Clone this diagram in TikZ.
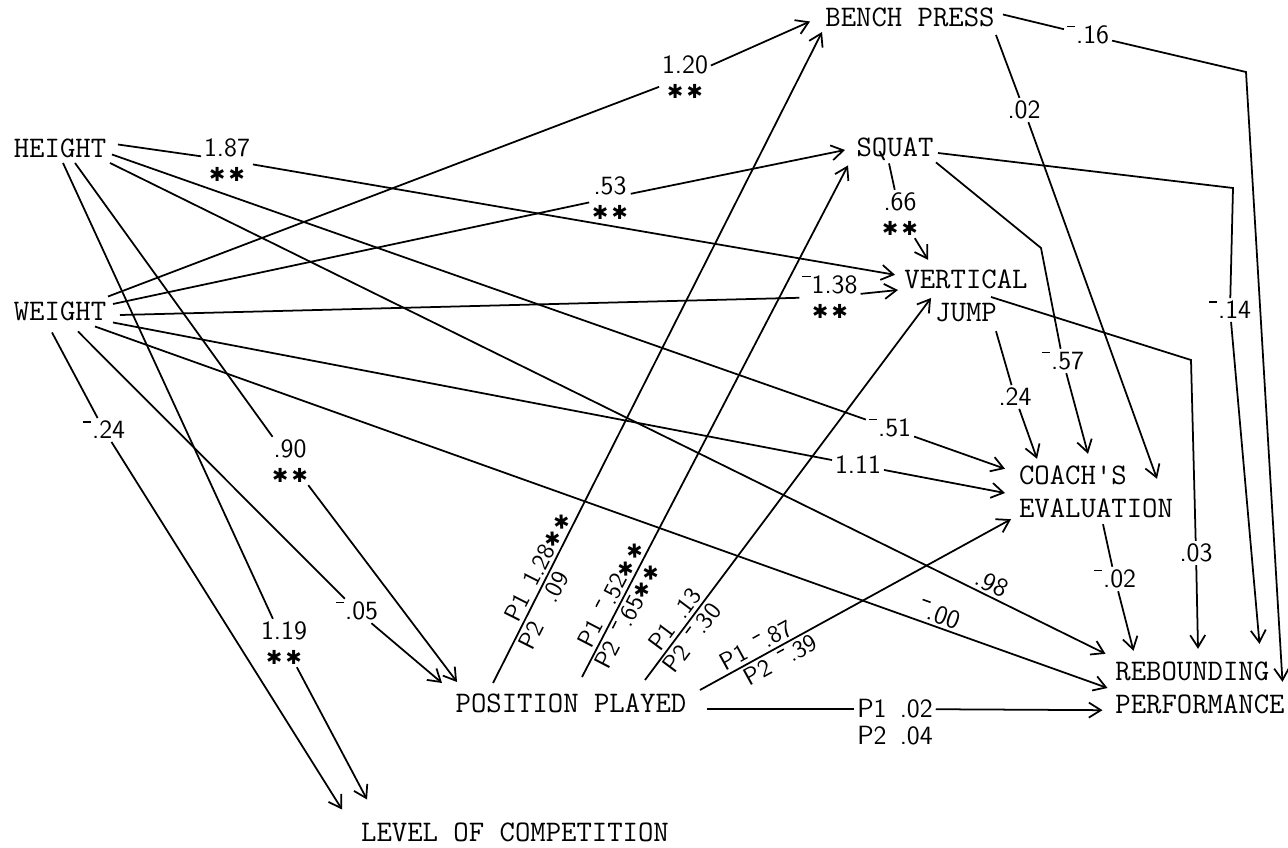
\documentclass[tikz,border=0pt]{standalone}
\usepackage{amsmath, amssymb}
\usepackage{fontspec}
\usepackage{xcolor}
\usepackage{tikz}
\usetikzlibrary{arrows.meta, positioning}
\newfontfamily\starfont{DejaVu Sans}
\newcommand{\mns}{\rule[.62em]{.32em}{.06em}\kern.03em}
\newcommand{\sig}{{\starfont\fontsize{11}{11}\selectfont ✱\,✱}}

\begin{document}
\begin{tikzpicture}[x=0.02cm, y=-0.02cm,
    var/.style={font=\ttfamily\fontsize{17}{19}\selectfont, inner sep=0pt, outer sep=0pt},
    coef/.style={font=\sffamily\fontsize{15}{14}\selectfont, inner sep=1.5pt, align=center},
    pcoef/.style={font=\sffamily\fontsize{14}{14}\selectfont, inner sep=1.5pt, sloped},
    conn/.style={line width=1pt},
    >={Straight Barb[length=2.4mm, width=3mm]}]
      \useasboundingbox (0,0) rectangle (1288,848);

      % Variables
      \node[var, minimum width=1.92cm, minimum height=0.34cm] (ht) at (60,148.5) {HEIGHT};
      \node[var, minimum width=1.92cm, minimum height=0.36cm] (wt) at (60,311) {WEIGHT};
      \node[var, minimum width=3.52cm, minimum height=0.38cm] (bp) at (910,17.5) {BENCH PRESS};
      \node[var, minimum width=1.6cm, minimum height=0.36cm] (sq) at (895,149) {SQUAT};
      \node[var, align=center, minimum width=2.6cm, minimum height=1.04cm] (vj) at (966,296) {VERTICAL\\JUMP};
      \node[var, align=left, minimum width=3.2cm, minimum height=1cm] (ce) at (1096,492) {COACH\textquotesingle S\\EVALUATION};
      \node[var, align=left, minimum width=3.42cm, minimum height=1cm] (reb) at (1200,688) {REBOUNDING\\PERFORMANCE};
      \node[var, minimum width=4.84cm, minimum height=0.4cm] (pp) at (571,703) {POSITION PLAYED};
      \node[var, minimum width=6.4cm, minimum height=0.38cm] (lvl) at (515,832) {LEVEL OF COMPETITION};

      % Path coefficients
      \node[coef] (l187) at (227,160) {1.87\\\sig};
      \node[coef] (l51) at (890,428) {\mns.51};
      \node[coef] (l90) at (290,461) {.90\\\sig};
      \node[coef] (l119) at (284,643) {1.19\\\sig};
      \node[coef] (l120) at (685,77) {1.20\\\sig};
      \node[coef] (l53) at (610,198) {.53\\\sig};
      \node[coef] (l138) at (830,297) {\mns1.38\\\sig};
      \node[coef] (l111) at (858,465) {1.11};
      \node[coef] (l05) at (357,611) {\mns.05};
      \node[coef] (l24) at (104,430) {\mns.24};
      \node[coef] (l16) at (1088,35) {\mns.16};
      \node[coef] (l02a) at (1024,110) {.02};
      \node[coef] (l14) at (1230,310) {\mns.14};
      \node[coef] (l66) at (900,214) {.66\\\sig};
      \node[coef] (l57) at (1063,361) {\mns.57};
      \node[coef] (l03) at (1196,553) {.03};
      \node[coef] (l24b) at (1015,397) {.24};
      \node[coef] (l02b) at (1115,579) {\mns.02};
      \node[coef] (l02c) at (895,709) {P1\enspace.02};
      \node[coef, below=1pt of l02c] (l04) {P2\enspace.04};

      % Corners
      \coordinate (c16) at (1246,72);
      \coordinate (c14) at (1233,188);
      \coordinate (c57) at (1041,248);
      \coordinate (c03) at (1191,360);

      % Draw paths from height
      \draw[conn] ([shift={(10,-4)}]ht.east) -- (l187);
      \draw[conn,->] (l187) -- ([shift={(-6,5)}]vj.north west);
      \draw[conn] ([shift={(4,6)}]ht.east) -- (l51);
      \draw[conn,->] (l51) -- ([shift={(-11,3)}]ce.north west);
      \draw[conn,->] ([shift={(2,5)}]ht.south east) -- node[coef, sloped, above, pos=0.88] {.98} ([shift={(-9,-8)}]reb.north west);
      \draw[conn] ([shift={(15,5)}]ht.south) -- (l90);
      \draw[conn,->] (l90) -- ([shift={(7,-11)}]pp.north west);
      \draw[conn] ([shift={(3,5)}]ht.south) -- (l119);
      \draw[conn,->] (l119) -- ([shift={(12,-23)}]lvl.north west);

      % Draw paths from weight
      \draw[conn] ([shift={(0,-5)}]wt.north east) -- (l120);
      \draw[conn,->] (l120) -- ([shift={(-12,4)}]bp.west);
      \draw[conn] ([shift={(5,-7)}]wt.east) -- (l53);
      \draw[conn,->] (l53) -- ([shift={(-10,1)}]sq.west);
      \draw[conn] ([shift={(12,4)}]wt.east) -- (l138);
      \draw[conn,->] (l138) -- ([shift={(-3,-6)}]vj.west);
      \draw[conn] ([shift={(5,2)}]wt.south east) -- (l111);
      \draw[conn,->] (l111) -- ([shift={(-11,1)}]ce.west);
      \draw[conn,->] ([shift={(35,6)}]wt.south) -- node[coef, sloped, above, pos=0.83] {\mns.00} ([shift={(-7,0)}]reb.west);
      \draw[conn] ([shift={(18,11)}]wt.south) -- (l05);
      \draw[conn,->] (l05) -- ([shift={(-8,-10)}]pp.north west);
      \draw[conn] ([shift={(-8,12)}]wt.south) -- (l24);
      \draw[conn,->] (l24) -- ([shift={(-13,-13)}]lvl.north west);

      % Draw paths from bench press
      \draw[conn] ([shift={(5,-3)}]bp.east) -- (l16);
      \draw[conn,->] (l16) -- (c16) -- ([shift={(-3,20)}]reb.north east);
      \draw[conn] ([shift={(-2,8)}]bp.south east) -- (l02a);
      \draw[conn,->] (l02a) -- ([shift={(-19,13)}]ce.north east);

      % Draw paths from squat
      \draw[conn] ([shift={(3,4)}]sq.east) -- (c14) -- (l14);
      \draw[conn,->] (l14) -- ([shift={(-26,-18)}]reb.north east);
      \draw[conn] ([shift={(-6,3)}]sq.south) -- (l66);
      \draw[conn,->] (l66) -- ([shift={(-38,-10)}]vj.north);
      \draw[conn] ([shift={(1,2)}]sq.south east) -- (c57) -- (l57);
      \draw[conn,->] (l57) -- ([shift={(-8,-12)}]ce.north);

      % Draw paths from vertical jump
      \draw[conn] ([shift={(25,1)}]vj.center) -- (c03) -- (l03);
      \draw[conn,->] (l03) -- ([shift={(-2,-13)}]reb.north);
      \draw[conn] ([shift={(30,9)}]vj.south) -- (l24b);
      \draw[conn,->] (l24b) -- ([shift={(21,-7)}]ce.north west);

      % Draw path from coach's evaluation
      \draw[conn] ([shift={(7,6)}]ce.south) -- (l02b);
      \draw[conn,->] (l02b) -- ([shift={(19,-11)}]reb.north west);

      % Draw paths from position played
      \draw[conn,->] ([shift={(43,-10)}]pp.north west) --
        node[pcoef, above, pos=0.17] {P1\enspace1.28\sig}
        node[pcoef, below, pos=0.12] {P2\quad.09} ([shift={(0,5)}]bp.south west);
      \draw[conn,->] ([shift={(11,-16)}]pp.north) --
        node[pcoef, above, pos=0.15] {P1\enspace\mns.52\sig}
        node[pcoef, below, pos=0.13] {P2\enspace\mns.65\sig} ([shift={(-7,5)}]sq.south west);
      \draw[conn,->] ([shift={(-47,-13)}]pp.north east) --
        node[pcoef, above, pos=0.14] {P1\enspace.13}
        node[pcoef, below, pos=0.13] {P2\enspace\mns.30} ([shift={(30,2)}]vj.west);
      \draw[conn,->] ([shift={(8,-13)}]pp.east) --
        node[pcoef, above, pos=0.2] {P1\enspace\mns.87}
        node[pcoef, below, pos=0.24] {P2\enspace\mns.39} ([shift={(-5,1)}]ce.south west);
      \draw[conn] ([shift={(15,6)}]pp.east) -- (l02c);
      \draw[conn,->] (l02c) -- ([shift={(-12,-4)}]reb.south west);
    \end{tikzpicture}
\end{document}
